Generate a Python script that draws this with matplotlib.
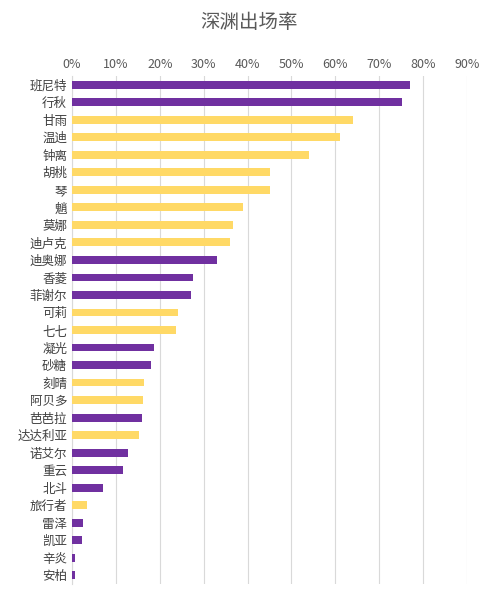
import matplotlib.pyplot as plt
import numpy as np

plt.rcParams['font.family'] = ['Noto Sans CJK SC', 'DejaVu Sans']

names = ["班尼特", "行秋", "甘雨", "温迪", "钟离", "胡桃", "琴", "魈", "莫娜", "迪卢克",
         "迪奥娜", "香菱", "菲谢尔", "可莉", "七七", "凝光", "砂糖", "刻晴", "阿贝多", "芭芭拉",
         "达达利亚", "诺艾尔", "重云", "北斗", "旅行者", "雷泽", "凯亚", "辛炎", "安柏"]
rates = [77.0, 75.2, 64.0, 61.0, 54.0, 45.2, 45.0, 39.0, 36.7, 36.0,
         33.0, 27.5, 27.0, 24.2, 23.7, 18.7, 18.0, 16.4, 16.2, 16.0,
         15.3, 12.8, 11.6, 7.0, 3.4, 2.5, 2.3, 0.7, 0.7]
groups = ["p", "p", "y", "y", "y", "y", "y", "y", "y", "y",
          "p", "p", "p", "y", "y", "p", "p", "y", "y", "p",
          "y", "p", "p", "p", "y", "p", "p", "p", "p"]
palette = {"p": "#7030A0", "y": "#FFD966"}

fig = plt.figure(figsize=(4.99, 6.03), dpi=100)
ax = fig.add_axes([72 / 499, 1 - 584 / 603, 395 / 499, (584 - 76) / 603])

y = np.arange(len(names))
ax.barh(y, rates, height=0.45, color=[palette[g] for g in groups], zorder=3)
ax.set_ylim(len(names) - 0.5, -0.5)
ax.set_xlim(0, 90)
ax.set_xticks(np.arange(0, 91, 10))
ax.set_xticklabels([f"{v}%" for v in range(0, 91, 10)], color="#595959", fontsize=9)
ax.xaxis.tick_top()
ax.set_yticks(y)
ax.set_yticklabels(names, fontsize=9, color="#404040")
ax.tick_params(length=0)
ax.grid(axis="x", color="#d9d9d9", linewidth=0.8, zorder=0)
for s in ["top", "right", "bottom"]:
    ax.spines[s].set_visible(False)
ax.spines["left"].set_color("#d9d9d9")
fig.text(0.5, 1 - 22 / 603, "深渊出场率", ha="center", va="center", fontsize=14, color="#595959")

fig.savefig("out.png", dpi=100)
